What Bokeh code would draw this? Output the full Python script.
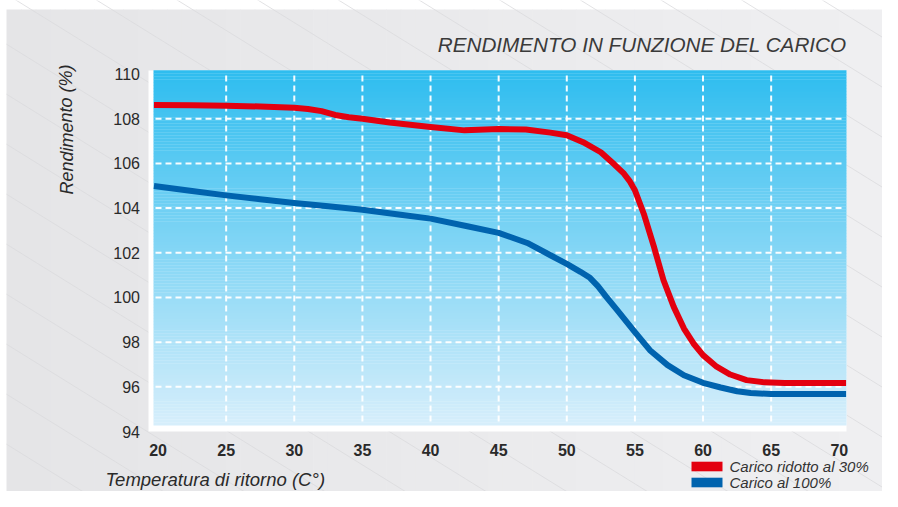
from bokeh.plotting import figure
from bokeh.models import Range1d
from bokeh.embed import file_html
from bokeh.resources import INLINE
from bokeh.core.properties import value

# ---------------- data ----------------
title_text = "RENDIMENTO IN FUNZIONE DEL CARICO"
x_label = "Temperatura di ritorno (C°)"
y_label = "Rendimento (%)"
series_names = ["Carico ridotto al 30%", "Carico al 100%"]

x_ticks = [20, 25, 30, 35, 40, 45, 50, 55, 60, 65, 70]
y_ticks = [94, 96, 98, 100, 102, 104, 106, 108, 110]

x_red = [19.7, 22.5, 25, 27.5, 30, 31, 32, 33, 34, 35, 37, 40, 42.5, 45, 47, 48.8,
         50, 51.2, 52.5, 53.5, 54.2, 54.6, 55, 55.65, 56.4, 57.1, 57.85, 58.6, 59.3,
         60, 61, 62, 63.2, 64.5, 66, 70.5]
y_red = [108.62, 108.6, 108.58, 108.55, 108.49, 108.44, 108.34, 108.17, 108.07, 108.0,
         107.83, 107.63, 107.48, 107.54, 107.52, 107.38, 107.26, 106.95, 106.5, 105.95,
         105.54, 105.22, 104.8, 103.75, 102.26, 100.77, 99.58, 98.61, 97.94, 97.42, 96.9,
         96.55, 96.3, 96.2, 96.17, 96.17]

x_blue = [19.7, 22.5, 25, 27.5, 30, 32.5, 35, 37.8, 40, 42.7, 45, 47.1, 48.8, 50, 51,
          51.7, 52.3, 52.9, 53.7, 55, 56.1, 57.4, 58.6, 60, 61.3, 62.5, 63.5, 65, 70.5]
y_blue = [104.99, 104.77, 104.57, 104.4, 104.23, 104.08, 103.93, 103.7, 103.53, 103.19,
          102.89, 102.44, 101.89, 101.5, 101.15, 100.88, 100.5, 100.03, 99.43, 98.45,
          97.64, 96.97, 96.52, 96.18, 95.97, 95.8, 95.72, 95.68, 95.68]

# ---------------- layout / styling ----------------
FONT = "Liberation Sans"
RED = "#e3000f"
BLUE = "#0063ae"
TXT = "#2a2a2a"
W, H = 882, 491

# plot frame in the chart's own data space
FX0, FX1 = 19.3, 70.53      # frame x extent (data)
FY0, FY1 = 94.0, 110.16     # frame y extent (data)
PX0, PX1 = 148, 846         # frame x extent (pixels)
PY_TOP, PY_BOT = 70, 431    # frame y extent (pixels)
kx = (PX1 - PX0) / (FX1 - FX0)
ky = (PY_BOT - PY_TOP) / (FY1 - FY0)
XS = FX0 - PX0 / kx
XE = FX0 + (W - PX0) / kx
YE = FY0 + PY_BOT / ky
YS = FY0 - (H - PY_BOT) / ky

def X(px):
    return XS + px / kx

def Y(py):
    return YE - py / ky

p = figure(width=W, height=H, output_backend="svg", toolbar_location=None,
           x_range=Range1d(XS, XE), y_range=Range1d(YS, YE),
           x_axis_location=None, y_axis_location=None, min_border=0)
p.grid.visible = False
p.outline_line_color = None
p.background_fill_color = "white"
p.border_fill_color = "white"

# page background: light grey with slight horizontal shading
ns = 60
gl, gr, gcol = [], [], []
c_left, c_right = (229, 229, 231), (239, 239, 241)
for i in range(ns):
    t = i / (ns - 1)
    c = tuple(int(round(c_left[k] + (c_right[k] - c_left[k]) * t)) for k in range(3))
    gl.append(X(6 + (W - 6) * i / ns)); gr.append(X(6 + (W - 6) * (i + 1) / ns) + 0.05)
    gcol.append("#%02x%02x%02x" % c)
p.quad(left=gl, right=gr, bottom=[Y(H + 2)] * ns, top=[Y(9)] * ns,
       fill_color=gcol, line_color=None)

# faint diagonal decoration lines
dx0, dy0, dx1, dy1 = [], [], [], []
for c in range(-560, 500, 50):
    dx0.append(X(6)); dy0.append(Y(c + 0.62 * 6))
    dx1.append(X(W)); dy1.append(Y(c + 0.62 * W))
p.segment(x0=dx0, y0=dy0, x1=dx1, y1=dy1, line_color="#dadadd", line_width=0.8)

# white plot frame + blue gradient
p.quad(left=[FX0], right=[FX1], bottom=[FY0], top=[FY1], fill_color="white", line_color=None)
gx0, gy0 = X(153), Y(425)
n = 120
top = (47, 189, 239)
bot = (214, 238, 251)
lefts, rights, bottoms, tops, colors = [], [], [], [], []
for i in range(n):
    t = i / (n - 1)
    c = tuple(int(round(bot[k] + (top[k] - bot[k]) * t)) for k in range(3))
    lefts.append(gx0); rights.append(FX1)
    bottoms.append(gy0 + (FY1 - gy0) * i / n)
    tops.append(gy0 + (FY1 - gy0) * (i + 1) / n + 0.01)
    colors.append("#%02x%02x%02x" % c)
p.quad(left=lefts, right=rights, bottom=bottoms, top=tops, fill_color=colors, line_color=None)

# dashed white grid
vx = x_ticks[1:-1]
p.segment(x0=vx, y0=[Y(75)] * len(vx), x1=vx, y1=[gy0] * len(vx),
          line_color="white", line_width=2, line_dash="6 4", line_alpha=0.95)
hy = y_ticks[1:-1]
p.segment(x0=[X(155)] * len(hy), y0=hy, x1=[X(844)] * len(hy), y1=hy,
          line_color="white", line_width=2, line_dash="6 4", line_alpha=0.95)

# curves
p.line(x_red, y_red, line_color=RED, line_width=6, line_join="round")
p.line(x_blue, y_blue, line_color=BLUE, line_width=6, line_join="round")

# tick labels
p.text(x=x_ticks, y=[Y(449)] * len(x_ticks), text=[str(v) for v in x_ticks],
       text_align="center", text_baseline="middle", text_font=value(FONT),
       text_font_size="16px", text_font_style="bold", text_color=TXT)
p.text(x=[X(139.5)] * len(y_ticks), y=y_ticks, text=[str(v) for v in y_ticks],
       text_align="right", text_baseline="middle", text_font=value(FONT),
       text_font_size="16px", text_color=TXT)

# title and axis titles
p.text(x=[X(846)], y=[Y(44)], text=[title_text], text_align="right",
       text_baseline="middle", text_font=value(FONT), text_font_size="20.7px",
       text_font_style="italic", text_color="#3a3a3a")
p.text(x=[X(66)], y=[Y(129)], text=[y_label], angle=1.5708, text_align="center",
       text_baseline="middle", text_font=value(FONT), text_font_size="18px",
       text_font_style="italic", text_color=TXT)
p.text(x=[X(105)], y=[Y(479)], text=[x_label], text_align="left",
       text_baseline="middle", text_font=value(FONT), text_font_size="18.5px",
       text_font_style="italic", text_color=TXT)

# legend
leg_mid = [466, 482]
p.quad(left=[X(691)] * 2, right=[X(722)] * 2,
       bottom=[Y(m + 4.8) for m in leg_mid], top=[Y(m - 4.8) for m in leg_mid],
       fill_color=[RED, BLUE], line_color=None)
p.text(x=[X(729)] * 2, y=[Y(m) for m in leg_mid], text=series_names,
       text_align="left", text_baseline="middle", text_font=value(FONT),
       text_font_size="15px", text_font_style="italic", text_color="#333333")

open("out.html", "w").write(file_html(p, INLINE))
